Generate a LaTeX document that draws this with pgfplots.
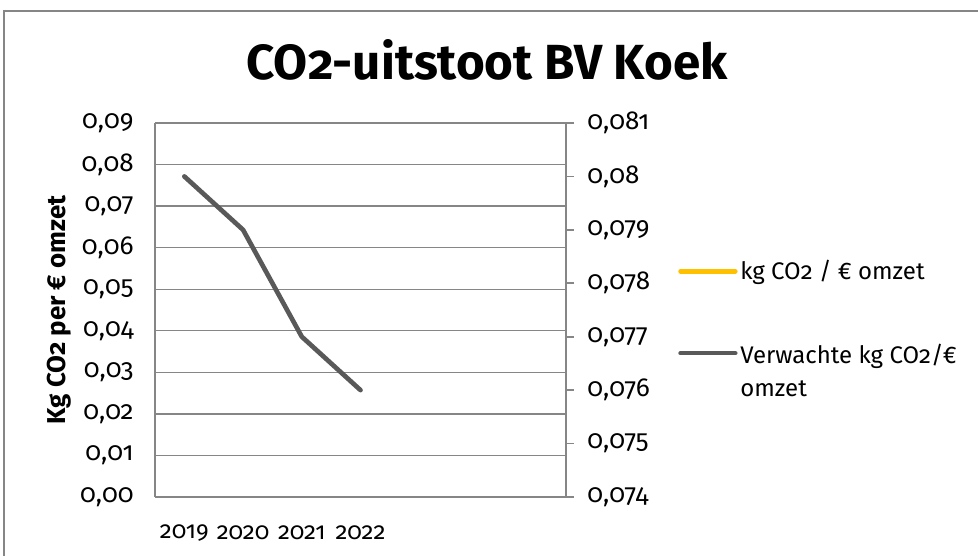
\documentclass[border=0pt]{standalone}
\usepackage{fontspec}
\setmainfont{Fira Sans}[Numbers=OldStyle]
\usepackage{pgfplots}
\pgfplotsset{compat=1.18}

\definecolor{gridgray}{RGB}{134,134,134}
\definecolor{linegray}{RGB}{89,89,89}
\definecolor{excelyellow}{RGB}{255,192,0}

\pgfplotsset{
  common/.style={
    at={(116.25pt,44.25pt)}, anchor=south west,
    scale only axis, width=308.25pt, height=280.5pt,
    xmin=-0.5, xmax=6.5,
    tick label style={font=\fontsize{19.5}{22}\selectfont},
    /pgf/number format/assume math mode=true,
    scaled y ticks=false,
    axis line style={gridgray, line width=1.4pt},
  },
}

\begin{document}
\begin{tikzpicture}[x=0.75pt,y=0.75pt]
\path[use as bounding box] (0,0) rectangle (978,556);
\draw[gridgray, line width=1.2pt] (4,-20) -- (4,545) -- (1000,545);
\node[font=\fontsize{37}{42}\selectfont\bfseries] at (487,496) {CO2-uitstoot BV Koek};

% left axis: grid, no visible data
\begin{axis}[common,
  axis x line*=bottom, axis y line*=left,
  ymin=0, ymax=0.09,
  ytick={0,0.01,0.02,0.03,0.04,0.05,0.06,0.07,0.08,0.09},
  yticklabel style={/pgf/number format/fixed, /pgf/number format/fixed zerofill,
    /pgf/number format/precision=2, /pgf/number format/use comma, xshift=-12.5pt},
  ymajorgrids, grid style={gridgray, line width=1pt},
  major tick length=0pt,
  xtick={0,1,2,3}, xticklabels={2019,2020,2021,2022},
  xticklabel style={anchor=center, yshift=-27pt, font=\fontsize{18}{22}\selectfont},
  ylabel={Kg CO2 per € omzet},
  ylabel style={font=\fontsize{19.4}{22}\selectfont\bfseries, at={(axis description cs:-0.232,0.5)}, anchor=center},
]
\end{axis}

% right axis with the expected values
\begin{axis}[common,
  axis x line=none, axis y line*=right,
  ymin=0.074, ymax=0.081,
  ytick={0.074,0.075,0.076,0.077,0.078,0.079,0.080,0.081},
  yticklabel style={/pgf/number format/fixed, /pgf/number format/precision=3,
    /pgf/number format/use comma, xshift=6.5pt},
  tick align=outside, major tick length=6pt,
  tick style={gridgray, line width=1.2pt},
  legend cell align=left,
  legend image code/.code={\draw[#1, line cap=round] (0pt,0pt) -- (41pt,0pt);},
  legend style={draw=none, fill=none, inner sep=0pt,
    font=\fontsize{18}{24.75}\selectfont,
    row sep=40pt, column sep=0pt,
    at={(axis description cs:1.2725,0.64)}, anchor=north west},
]
\addlegendimage{excelyellow, line width=3.5pt}
\addlegendentry{kg CO2 / € omzet}
\addplot[linegray, line width=3.5pt, line cap=round, line join=round] coordinates {
  (0,0.080) (1,0.079) (2,0.077) (3,0.076)
};
\addlegendentry{\raisebox{0pt}[\height][\dimexpr\depth-24.75pt\relax]{%
  \begin{tabular}[t]{@{}l@{}}Verwachte kg CO2/€\\omzet\end{tabular}}}
\end{axis}
\end{tikzpicture}
\end{document}
